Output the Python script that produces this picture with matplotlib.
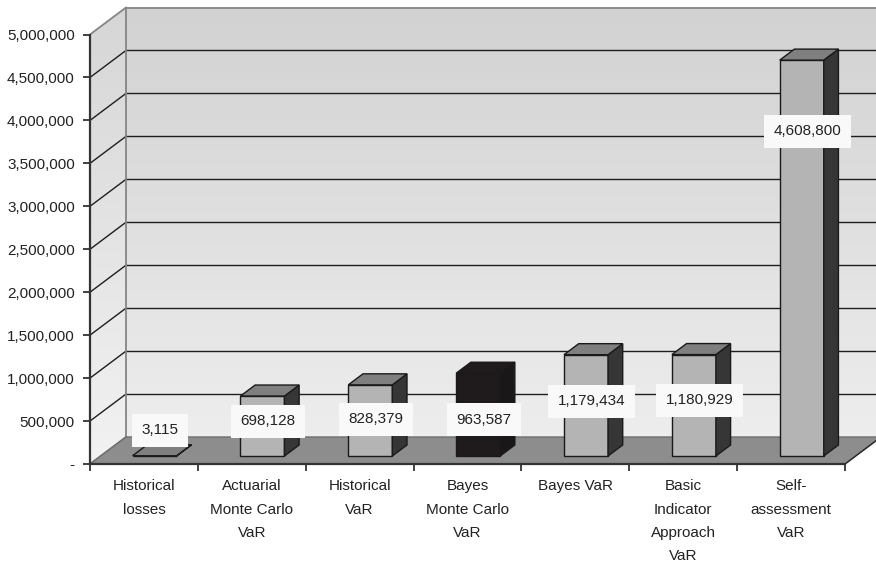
import numpy as np
import matplotlib
matplotlib.use("Agg")
import matplotlib.pyplot as plt
from matplotlib.patches import Polygon
from matplotlib.colors import LinearSegmentedColormap
from matplotlib.ticker import FuncFormatter

# ---- data ----
categories = [
    "Historical\nlosses",
    "Actuarial\nMonte Carlo\nVaR",
    "Historical\nVaR",
    "Bayes\nMonte Carlo\nVaR",
    "Bayes VaR",
    "Basic\nIndicator\nApproach\nVaR",
    "Self-\nassessment\nVaR",
]
values = [3115, 698128, 828379, 963587, 1179434, 1180929, 4608800]
highlight = [False, False, False, True, False, False, False]
y_ticks = [0, 500000, 1000000, 1500000, 2000000, 2500000,
           3000000, 3500000, 4000000, 4500000, 5000000]

# ---- layout (value-label anchor heights, in axis units) ----
label_heights = [395e3, 500e3, 523e3, 517e3, 733e3, 744e3, 3872e3]

plt.rcParams['font.family'] = ['Liberation Sans', 'DejaVu Sans']

W, H, DPI = 876, 563, 100
fig = plt.figure(figsize=(W / DPI, H / DPI), dpi=DPI)
fig.patch.set_facecolor('white')

PX_PER_CAT = 107.86
PX_PER_VAL = 85.9e-6
left_px, base_px = 90, 464
ax = fig.add_axes([left_px / W, (H - base_px) / H, (W - left_px) / W, base_px / H])
xmax = (W - left_px) / PX_PER_CAT
ymax = base_px / PX_PER_VAL

# oblique depth offsets (one full depth unit)
DX = 36 / PX_PER_CAT
DY = 27 / PX_PER_VAL
ncat = len(categories)
top = y_ticks[-1]
far_right = ncat + DX + 0.3

# ---- walls with vertical gradient ----
back_cmap = LinearSegmentedColormap.from_list("back", ["#efefef", "#d2d2d2"])
side_cmap = LinearSegmentedColormap.from_list("side", ["#f2f2f2", "#d6d6d6"])
grad = np.linspace(0, 1, 256).reshape(-1, 1)

side = Polygon([(0, 0), (DX, DY), (DX, top + DY), (0, top)], closed=True,
               facecolor='none', edgecolor='none')
back = Polygon([(DX, DY), (far_right, DY), (far_right, top + DY), (DX, top + DY)],
               closed=True, facecolor='none', edgecolor='none')
for poly, cmap in ((side, side_cmap), (back, back_cmap)):
    ax.add_patch(poly)
    im = ax.imshow(grad, extent=[0, far_right, 0, top + DY], origin='lower',
                   cmap=cmap, aspect='auto', zorder=0)
    im.set_clip_path(poly)

# gridlines on both walls
for v in y_ticks[1:-1]:
    ax.plot([0, DX], [v, v + DY], color='#1e1e1e', lw=1.0, zorder=1)
    ax.plot([DX, far_right], [v + DY, v + DY], color='#1e1e1e', lw=1.0, zorder=1)

# wall edges
edge_c = '#858585'
ax.plot([0, DX], [top, top + DY], color=edge_c, lw=1.3, zorder=2)
ax.plot([DX, far_right], [top + DY, top + DY], color=edge_c, lw=1.3, zorder=2)
ax.plot([DX, DX], [DY, top + DY], color=edge_c, lw=1.3, zorder=2)
ax.plot([0, DX], [0, DY], color=edge_c, lw=1.3, zorder=2)

# floor
floor = Polygon([(0, 0), (ncat, 0), (ncat + DX, DY), (DX, DY)], closed=True,
                facecolor='#8d8d8d', edgecolor='#6e6e6e', lw=1.0, zorder=3)
ax.add_patch(floor)
ax.plot([ncat, ncat + DX], [0, DY], color='#2a2a2a', lw=1.0, zorder=3)

# ---- 3D bars ----
BW = 0.408
D0, D1 = 0.296, 0.704
ddx = (D1 - D0) * DX
ddy = (D1 - D0) * DY
for i, (v, hl) in enumerate(zip(values, highlight)):
    if hl:
        c_front, c_top, c_side = '#1f1b1c', '#1f1b1c', '#1a1718'
    else:
        c_front, c_top, c_side = '#b4b4b4', '#7f7f7f', '#363636'
    x0 = i + 0.5 - BW / 2 + D0 * DX
    y0 = D0 * DY
    front = Polygon([(x0, y0), (x0 + BW, y0), (x0 + BW, y0 + v), (x0, y0 + v)],
                    closed=True, facecolor=c_front, edgecolor='#1a1a1a', lw=1.0,
                    zorder=5 + i)
    side_f = Polygon([(x0 + BW, y0), (x0 + BW + ddx, y0 + ddy),
                      (x0 + BW + ddx, y0 + ddy + v), (x0 + BW, y0 + v)],
                     closed=True, facecolor=c_side, edgecolor='#1a1a1a', lw=1.0,
                     zorder=5 + i)
    top_f = Polygon([(x0, y0 + v), (x0 + BW, y0 + v),
                     (x0 + BW + ddx, y0 + ddy + v), (x0 + ddx, y0 + ddy + v)],
                    closed=True, facecolor=c_top, edgecolor='#1a1a1a', lw=1.0,
                    zorder=5 + i)
    for p in (front, side_f, top_f):
        ax.add_patch(p)

# value labels
for i, (v, ly) in enumerate(zip(values, label_heights)):
    ax.text(i + 0.5 + 0.15, ly, f"{v:,}", ha='center', va='center',
            fontsize=11, color='#222222', zorder=20,
            bbox=dict(boxstyle='square,pad=0.62', facecolor='#f9f9f9',
                      edgecolor='none'))

# ---- axes lines ----
ax_c = '#333333'
ax.plot([0, 0], [0, top], color=ax_c, lw=1.6, zorder=4, clip_on=False)
ax.plot([0, ncat], [0, 0], color=ax_c, lw=1.6, zorder=4, clip_on=False)

ax.set_xlim(0, xmax)
ax.set_ylim(0, ymax)
for s in ax.spines.values():
    s.set_visible(False)
ax.patch.set_visible(False)

ax.set_yticks(y_ticks)
ax.yaxis.set_major_formatter(FuncFormatter(lambda v, p: '-' if v == 0 else f"{v:,.0f}"))
ax.tick_params(axis='y', direction='out', length=5, width=1.3, color=ax_c,
               pad=6, labelsize=11, labelcolor='#222222')

ax.set_xticks(range(ncat + 1))
ax.set_xticklabels([''] * (ncat + 1))
ax.set_xticks([i + 0.5 for i in range(ncat)], minor=True)
ax.set_xticklabels(categories, minor=True)
ax.tick_params(axis='x', which='major', direction='out', length=5, width=1.3, color=ax_c)
ax.tick_params(axis='x', which='minor', length=0, pad=11, labelsize=11,
               labelcolor='#222222')
for lbl in ax.get_xticklabels(minor=True):
    lbl.set_linespacing(1.85)

fig.savefig('out.png', dpi=DPI)
